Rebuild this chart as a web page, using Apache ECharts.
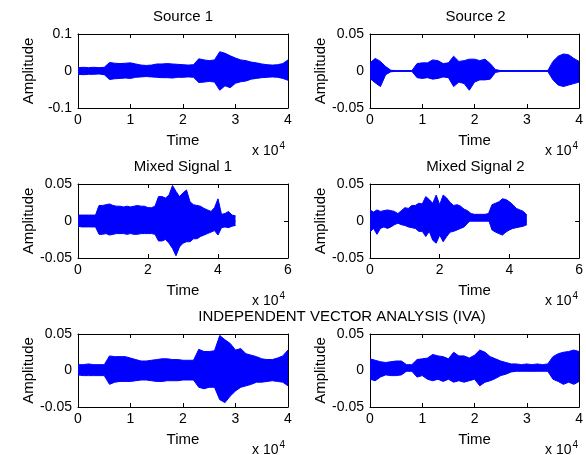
<!DOCTYPE html>
<html>
<head>
<meta charset="utf-8">
<script src="https://cdn.jsdelivr.net/npm/echarts@6/dist/echarts.min.js"></script>
<style>
  html, body { margin: 0; padding: 0; background: #fff; }
  #chart { width: 586px; height: 455px; }
</style>
</head>
<body>
<div id="chart"></div>
<script>
// 每个点代表 1000 个采样的包络（上/下）
const binSize = 1000;

const src1Hi = [.009,.010,.009,.010,.009,.010,.023,.021,.020,.021,.022,.019,.016,.015,.016,.019,.019,.020,.019,.018,.017,.016,.017,.033,.030,.028,.030,.052,.048,.041,.035,.030,.028,.024,.022,.019,.017,.016,.017,.020,.030];
const src1Lo = [-.009,-.010,-.009,-.009,-.008,-.010,-.023,-.021,-.020,-.019,-.020,-.017,-.016,-.015,-.016,-.017,-.018,-.018,-.019,-.017,-.017,-.016,-.017,-.031,-.030,-.028,-.030,-.052,-.040,-.045,-.033,-.029,-.027,-.022,-.020,-.018,-.017,-.016,-.017,-.020,-.025];

const src2Hi = [.011,.017,.013,.006,.001,.0005,.0005,.0005,.0005,.010,.011,.011,.015,.014,.010,.011,.020,.013,.014,.016,.016,.014,.016,.010,.002,.0005,.0005,.0005,.0005,.0005,.0005,.0005,.0005,.0005,.0005,.013,.020,.023,.022,.017,.013];
const src2Lo = [-.010,-.016,-.021,-.005,-.001,-.0005,-.0005,-.0005,-.0005,-.009,-.010,-.009,-.011,-.010,-.008,-.009,-.021,-.015,-.017,-.026,-.015,-.012,-.012,-.011,-.002,-.0005,-.0005,-.0005,-.0005,-.0005,-.0005,-.0005,-.0005,-.0005,-.0005,-.012,-.019,-.021,-.019,-.017,-.015];

const mix1Hi = [.008,.008,.008,.008,.008,.008,.021,.021,.022,.023,.021,.020,.020,.019,.020,.019,.020,.021,.020,.020,.018,.018,.020,.033,.033,.031,.035,.048,.040,.033,.038,.042,.026,.022,.021,.020,.017,.015,.013,.018,.030,.009,.010,.013,.008,.007];
const mix1Lo = [-.007,-.008,-.008,-.008,-.008,-.008,-.018,-.018,-.017,-.019,-.018,-.017,-.017,-.017,-.018,-.017,-.018,-.018,-.017,-.017,-.017,-.017,-.018,-.027,-.027,-.025,-.030,-.037,-.047,-.035,-.030,-.028,-.028,-.024,-.024,-.021,-.019,-.017,-.015,-.013,-.019,-.009,-.008,-.009,-.007,-.006];

const mix2Hi = [.015,.012,.015,.013,.014,.015,.014,.013,.010,.014,.018,.017,.021,.021,.024,.023,.033,.029,.024,.035,.022,.035,.031,.025,.021,.022,.020,.016,.014,.010,.009,.009,.009,.009,.010,.022,.024,.026,.030,.029,.026,.022,.017,.015,.013,.008];
const mix2Lo = [-.015,-.010,-.018,-.010,-.008,-.010,-.008,-.005,-.003,-.005,-.006,-.008,-.009,-.010,-.014,-.014,-.021,-.014,-.026,-.030,-.019,-.028,-.021,-.015,-.014,-.012,-.010,-.008,-.003,.002,.003,.003,.003,.003,.002,-.012,-.015,-.017,-.019,-.015,-.012,-.010,-.009,-.008,-.007,-.005];

const iva1Hi = [.008,.008,.009,.008,.008,.008,.020,.019,.019,.019,.017,.015,.013,.013,.014,.015,.016,.016,.015,.015,.014,.014,.014,.029,.026,.026,.027,.048,.042,.037,.028,.030,.023,.021,.019,.016,.015,.015,.017,.020,.028];
const iva1Lo = [-.006,-.007,-.007,-.007,-.007,-.007,-.019,-.016,-.015,-.015,-.015,-.014,-.013,-.013,-.014,-.015,-.015,-.014,-.014,-.014,-.013,-.013,-.013,-.023,-.025,-.023,-.023,-.040,-.044,-.035,-.028,-.023,-.021,-.019,-.016,-.016,-.015,-.014,-.015,-.016,-.021];

const iva2Hi = [.016,.014,.012,.011,.012,.013,.013,.008,.008,.015,.016,.017,.022,.020,.019,.016,.025,.020,.020,.017,.021,.028,.025,.019,.016,.013,.011,.009,.009,.008,.009,.008,.009,.008,.009,.019,.023,.025,.026,.028,.026];
const iva2Lo = [-.012,-.014,-.009,-.006,-.007,-.007,-.006,-.001,-.001,-.009,-.007,-.012,-.014,-.012,-.015,-.012,-.016,-.014,-.016,-.014,-.012,-.021,-.016,-.014,-.011,-.007,-.005,-.002,-.001,-.001,-.001,-.001,-.001,-.001,-.001,-.012,-.015,-.019,-.016,-.019,-.015];

const titles = ['Source 1', 'Source 2', 'Mixed Signal 1', 'Mixed Signal 2', '', ''];
const yMax = [0.1, 0.05, 0.05, 0.05, 0.05, 0.05];
const xMax = [40000, 40000, 60000, 60000, 40000, 40000];
const xStep = [10000, 10000, 20000, 20000, 10000, 10000];
const his = [src1Hi, src2Hi, mix1Hi, mix2Hi, iva1Hi, iva2Hi];
const los = [src1Lo, src2Lo, mix1Lo, mix2Lo, iva1Lo, iva2Lo];

const boxes = [
  {left: 78, top: 34, width: 210, height: 74},
  {left: 370, top: 34, width: 211, height: 74},
  {left: 78, top: 184, width: 210, height: 74},
  {left: 370, top: 184, width: 211, height: 74},
  {left: 78, top: 334, width: 210, height: 73},
  {left: 370, top: 334, width: 211, height: 73}
];

const FONT = 'Liberation Sans, Arial, sans-serif';
const BLUE = '#0000ff';

let grids = [], xAxes = [], yAxes = [], series = [], graphics = [];

boxes.forEach(function (b, g) {
  grids.push(Object.assign({containLabel: false}, b));
  let tick = {show: true, inside: true, length: 4, lineStyle: {color: '#000'}};
  let line = {show: true, onZero: false, lineStyle: {color: '#000', width: 1}};
  xAxes.push({
    gridIndex: g, type: 'value', min: 0, max: xMax[g], interval: xStep[g],
    axisLine: line, axisTick: tick, splitLine: {show: false},
    axisLabel: {color: '#000', fontSize: 14, fontFamily: FONT, margin: 5,
      formatter: function (v) { return String(v / 10000); }},
    name: 'Time', nameLocation: 'middle', nameGap: 25,
    nameTextStyle: {color: '#000', fontSize: 15, fontFamily: FONT}
  });
  xAxes.push({
    gridIndex: g, type: 'value', position: 'top', min: 0, max: xMax[g], interval: xStep[g],
    axisLine: line, axisTick: tick, axisLabel: {show: false}, splitLine: {show: false}
  });
  yAxes.push({
    gridIndex: g, type: 'value', min: -yMax[g], max: yMax[g], interval: yMax[g],
    axisLine: line, axisTick: tick, splitLine: {show: false},
    axisLabel: {color: '#000', fontSize: 14, fontFamily: FONT, margin: 6,
      formatter: function (v) { return String(+v.toFixed(2)); }},
    name: 'Amplitude', nameLocation: 'middle', nameGap: 42, nameRotate: 90,
    nameTextStyle: {color: '#000', fontSize: 15, fontFamily: FONT}
  });
  yAxes.push({
    gridIndex: g, type: 'value', position: 'right', min: -yMax[g], max: yMax[g], interval: yMax[g],
    axisLine: line, axisTick: tick, axisLabel: {show: false}, splitLine: {show: false}
  });

  // 上包络和下包络各自填充到零线附近，稍微重叠避免中间出现白缝
  let seam = yMax[g] * 0.02;
  [[his[g], -seam], [los[g], seam]].forEach(function (p) {
    series.push({
      type: 'line', xAxisIndex: 2 * g, yAxisIndex: 2 * g,
      data: p[0].map(function (v, i) { return [i * binSize, v]; }),
      showSymbol: false, silent: true, animation: false,
      lineStyle: {color: BLUE, width: 1},
      areaStyle: {color: BLUE, opacity: 1, origin: p[1]}
    });
  });

  // 标题
  if (titles[g]) {
    graphics.push({type: 'text', x: b.left + b.width / 2, y: b.top - 17,
      style: {text: titles[g], align: 'center', verticalAlign: 'middle', fill: '#000', font: '15px ' + FONT}});
  }
  // x 10^4
  graphics.push({type: 'text', x: b.left + b.width - 36, y: b.top + b.height + 43,
    style: {text: 'x 10{s|4}', align: 'left', verticalAlign: 'middle', fill: '#000', font: '14px ' + FONT,
      rich: {s: {fontSize: 10, fontFamily: FONT, fill: '#000', verticalAlign: 'top', padding: [0, 0, 10, 1]}}}});
});

graphics.push({type: 'text', x: 342, y: 317,
  style: {text: 'INDEPENDENT VECTOR ANALYSIS (IVA)', align: 'center', verticalAlign: 'middle', fill: '#000', font: '15px ' + FONT}});

let chart = echarts.init(document.getElementById('chart'));
chart.setOption({
  animation: false,
  backgroundColor: '#fff',
  grid: grids,
  xAxis: xAxes,
  yAxis: yAxes,
  series: series,
  graphic: graphics
});
</script>
</body>
</html>
